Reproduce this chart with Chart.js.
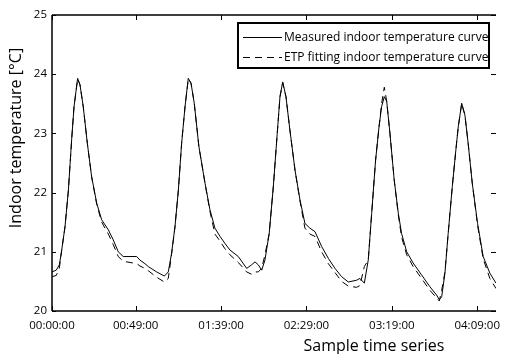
<!DOCTYPE html>
<html>
<head>
<meta charset="utf-8">
<script src="https://cdn.jsdelivr.net/npm/chart.js@4/dist/chart.umd.min.js"></script>
<style>
  html, body { margin: 0; padding: 0; background: #fff; }
  #wrap { width: 513px; height: 354px; }
</style>
</head>
<body>
<div id="wrap"><canvas id="c" width="513" height="354"></canvas></div>
<script>
// sample time (minutes from start)
const sampleMinutes = [
  0, 2.5, 4.3, 5.7, 7.6, 9.6, 11.5, 12.9, 15, 16.4, 18.3, 20.7, 23.2, 26.2, 29.1, 33, 35.9, 38.8, 41.7,
  49.6, 51.5, 54.4, 56.4, 61.3, 65.8, 68.1, 70, 72, 74, 75.9, 77.9, 79.8, 81.4, 83.3, 86, 89.6, 92.5,
  95.4, 98.4, 101.3, 104.2, 109.1, 114, 116.9, 118.9, 120.8, 122.8, 124.7, 127.2, 129.6, 131.9, 133.5,
  135.1, 137, 139.3, 142.3, 145.2, 148.1, 151, 154, 157.9, 161.8, 165.7, 169.6, 173.5, 178.4, 180.3,
  182.9, 185.2, 187.2, 189.5, 191.5, 193, 194.6, 196, 197.9, 200.4, 202.8, 204.7, 207.7, 211.5, 216.4,
  221.3, 225.2, 226.8, 228.2, 230.1, 232, 234.4, 236.5, 237.9, 239.9, 241.8, 243.7, 246.1, 249.2,
  252.5, 256.4, 260
];
// measured indoor temperature (°C)
const measuredTemp = [
  20.66, 20.69, 20.78, 21.03, 21.42, 22.04, 22.89, 23.45, 23.93, 23.82, 23.45, 22.83, 22.27, 21.82, 21.54, 21.37, 21.2, 21.0, 20.92,
  20.92, 20.86, 20.8, 20.75, 20.66, 20.59, 20.66, 20.97, 21.42, 22.04, 22.83, 23.45, 23.93, 23.85, 23.51, 22.78, 22.16, 21.71,
  21.4, 21.26, 21.14, 21.03, 20.92, 20.72, 20.78, 20.83, 20.78, 20.69, 20.86, 21.31, 22.1, 23.0, 23.62,
  23.87, 23.62, 23.06, 22.38, 21.88, 21.48, 21.4, 21.34, 21.09, 20.89, 20.72, 20.58, 20.49, 20.52, 20.55,
  20.47, 20.86, 21.65, 22.55, 23.11, 23.45, 23.62, 23.54, 23.0, 22.21, 21.65, 21.31, 21.0, 20.81, 20.61,
  20.41, 20.27, 20.19, 20.24, 20.64, 21.31, 22.1, 22.72, 23.11, 23.51, 23.31, 22.83, 22.16, 21.48,
  20.92, 20.64, 20.47
];
// ETP fitted indoor temperature (°C)
const fittedTemp = [
  20.58, 20.6, 20.72, 21.03, 21.42, 22.04, 22.89, 23.45, 23.92, 23.82, 23.45, 22.83, 22.27, 21.8, 21.5, 21.3, 21.12, 20.92, 20.84,
  20.8, 20.76, 20.72, 20.68, 20.57, 20.49, 20.55, 20.95, 21.42, 22.04, 22.83, 23.45, 23.92, 23.85, 23.51, 22.78, 22.16, 21.68,
  21.3, 21.18, 21.05, 20.95, 20.82, 20.66, 20.62, 20.66, 20.66, 20.72, 20.95, 21.31, 22.1, 23.0, 23.62,
  23.85, 23.62, 23.06, 22.38, 21.86, 21.4, 21.3, 21.26, 21.0, 20.8, 20.65, 20.5, 20.42, 20.4, 20.43,
  20.75, 20.86, 21.65, 22.55, 23.11, 23.5, 23.78, 23.54, 23.0, 22.21, 21.62, 21.25, 20.95, 20.75, 20.55,
  20.35, 20.22, 20.17, 20.35, 20.66, 21.31, 22.1, 22.72, 23.11, 23.5, 23.31, 22.83, 22.16, 21.45,
  20.88, 20.55, 20.38
];
const xTickMinutes = [0, 49, 99, 149, 199, 249];
const seriesLabels = ['Measured indoor temperature curve', 'ETP fitting indoor temperature curve'];

const FONT = '"Open Sans", "Noto Sans", sans-serif';

function fmtTime(m) {
  const h = Math.floor(m / 60), mm = m % 60;
  return String(h).padStart(2, '0') + ':' + String(mm).padStart(2, '0') + ':00';
}

// frame, inward ticks, axis titles and legend box
const framePlugin = {
  id: 'frame',
  afterDraw(chart) {
    const { ctx, chartArea: a, scales } = chart;
    ctx.save();
    ctx.strokeStyle = '#000';
    ctx.lineWidth = 1.5;
    ctx.beginPath();
    ctx.moveTo(a.left, a.top); ctx.lineTo(a.right, a.top);
    ctx.moveTo(a.left, a.top); ctx.lineTo(a.left, a.bottom);
    ctx.moveTo(a.left, a.bottom); ctx.lineTo(a.right, a.bottom);
    ctx.stroke();

    ctx.lineWidth = 1;
    ctx.beginPath();
    scales.x.ticks.forEach(t => {
      const px = Math.round(scales.x.getPixelForValue(t.value)) + 0.5;
      ctx.moveTo(px, a.bottom); ctx.lineTo(px, a.bottom - 5);
      ctx.moveTo(px, a.top); ctx.lineTo(px, a.top + 5);
    });
    scales.y.ticks.forEach(t => {
      const py = Math.round(scales.y.getPixelForValue(t.value)) + 0.5;
      ctx.moveTo(a.left, py); ctx.lineTo(a.left + 4, py);
      ctx.moveTo(a.right, py); ctx.lineTo(a.right - 5, py);
    });
    ctx.stroke();

    // axis titles
    ctx.fillStyle = '#000';
    ctx.font = '16px ' + FONT;
    ctx.textAlign = 'center';
    ctx.textBaseline = 'middle';
    ctx.fillText('Sample time series', 374, 346);
    ctx.save();
    ctx.translate(16, 138);
    ctx.rotate(-Math.PI / 2);
    ctx.fillText('Indoor temperature [\u00B0C]', 0, 0);
    ctx.restore();

    // legend
    ctx.lineWidth = 2;
    ctx.strokeRect(238, 23, 251, 45);
    ctx.font = '12px ' + FONT;
    ctx.textAlign = 'left';
    chart.data.datasets.slice().reverse().forEach((ds, i) => {
      const y = 37 + i * 20;
      ctx.lineWidth = 1;
      ctx.setLineDash(ds.borderDash || []);
      ctx.beginPath();
      ctx.moveTo(243, y + 0.5); ctx.lineTo(282, y + 0.5);
      ctx.stroke();
      ctx.setLineDash([]);
      ctx.fillText(ds.label, 284, y + 1);
    });
    ctx.restore();
  }
};

new Chart(document.getElementById('c'), {
  type: 'line',
  data: {
    datasets: [
      {
        label: seriesLabels[1],
        data: sampleMinutes.map((t, i) => ({ x: t, y: fittedTemp[i] })),
        borderColor: '#000',
        borderWidth: 1,
        borderDash: [7, 5],
        pointRadius: 0,
        tension: 0,
      },
      {
        label: seriesLabels[0],
        data: sampleMinutes.map((t, i) => ({ x: t, y: measuredTemp[i] })),
        borderColor: '#000',
        borderWidth: 1,
        pointRadius: 0,
        tension: 0,
      }
    ]
  },
  options: {
    responsive: false,
    animation: false,
    devicePixelRatio: 1,
    layout: { padding: { top: 15, right: 17, left: 0, bottom: 0 } },
    plugins: {
      legend: { display: false },
      tooltip: { enabled: false }
    },
    scales: {
      x: {
        type: 'linear',
        min: 0,
        max: 260,
        afterBuildTicks: s => { s.ticks = xTickMinutes.map(v => ({ value: v })); },
        afterFit: s => { s.height = 43; },
        grid: { display: false, drawTicks: false },
        border: { display: false },
        ticks: { color: '#000', font: { family: FONT, size: 11.5 }, padding: 8, maxRotation: 0, callback: v => fmtTime(v) }
      },
      y: {
        min: 20,
        max: 25,
        afterFit: s => { s.width = 52; },
        grid: { display: false, drawTicks: false },
        border: { display: false },
        ticks: { color: '#000', font: { family: FONT, size: 11.5 }, padding: 5, stepSize: 1 }
      }
    }
  },
  plugins: [framePlugin]
});
</script>
</body>
</html>
